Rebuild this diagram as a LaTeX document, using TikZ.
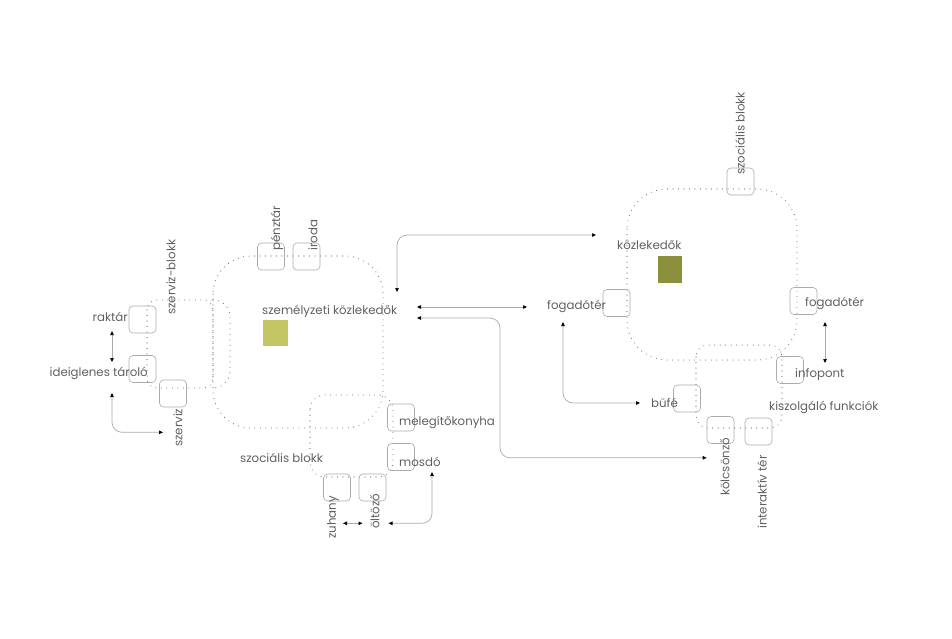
\documentclass[tikz,border=0pt]{standalone}
\usepackage{fontspec}
\setmainfont{Poppins}
\usepackage{tikz}
\usetikzlibrary{arrows.meta, calc, positioning}

\definecolor{olivelight}{HTML}{C3C462}
\definecolor{olivedark}{HTML}{8C8F3B}
\definecolor{txtgray}{HTML}{606060}
\definecolor{linegray}{HTML}{ABABAB}
\definecolor{dotgray}{HTML}{707070}

\begin{document}
\begin{tikzpicture}[x=1pt, y=-1pt,
	lbl/.style={text=txtgray, font=\fontsize{11.8}{12}\selectfont, inner sep=1pt},
	roomb/.style={draw=linegray, line width=0.6pt, rounded corners=4pt, minimum width=27pt, minimum height=27pt, inner sep=0pt},
	dotloop/.style={draw=dotgray, line width=1.1pt, line cap=round, dash pattern=on 0pt off 5.5pt, rounded corners=#1},
	dotloop/.default=20pt,
	conn/.style={draw=linegray, line width=0.7pt, rounded corners=10pt, {Triangle[black,length=4pt,width=3.5pt]}-{Triangle[black,length=4pt,width=3.5pt]}}
]
	\useasboundingbox (0,0) rectangle (952,638);
	% dotted circulation loops
	\draw[dotloop=38pt] (213,256) rectangle (383,428);
	\draw[dotloop=10pt] (147,300) rectangle (213,388);
	\draw[dotloop=17pt] (213,300) -| (230,388) -- (213,388);
	\draw[dotloop=15pt] (310,395) rectangle (393,477);
	\draw[dotloop=40pt] (627,189) rectangle (797,360);
	\draw[dotloop=12pt] (696,345) rectangle (782,428);
	\fill[olivelight] (263,320) rectangle (288,346);
	\fill[olivedark] (658,256) rectangle (682,283);
	% rooms
	\node[roomb] (raktarb) at (142.5,319.5) {};
	\node[roomb] (ideigb) at (142.5,369) {};
	\node[roomb] (szervizb) at (173,393.5) {};
	\node[roomb] (penztarb) at (271,256.5) {};
	\node[roomb] (irodab) at (306.5,256.5) {};
	\node[roomb] (melegb) at (401,417.5) {};
	\node[roomb] (mosdob) at (401,457) {};
	\node[roomb] (zuhanyb) at (337,487.5) {};
	\node[roomb] (oltozob) at (372.5,487.5) {};
	\node[roomb] (szocRb) at (740.5,181.5) {};
	\node[roomb] (fogado1b) at (616.5,303) {};
	\node[roomb] (fogado2b) at (803.5,301) {};
	\node[roomb] (infopontb) at (790,370) {};
	\node[roomb] (bufeb) at (687,398.5) {};
	\node[roomb] (kolcsb) at (720.5,430) {};
	\node[roomb] (interaktb) at (758.5,431.5) {};
	% labels
	\node[lbl, anchor=east] (raktar) at (129,317) {raktár};
	\node[lbl, anchor=east] (ideig) at (149,373) {ideiglenes tároló};
	\node[lbl, rotate=90, anchor=west] (szervizblokk) at (171,316) {szerviz-blokk};
	\node[lbl, rotate=90, anchor=west] (szerviz) at (178,448) {szerviz};
	\node[lbl, rotate=90, anchor=west] (penztar) at (277,252) {pénztár};
	\node[lbl, rotate=90, anchor=west] (iroda) at (313,252) {iroda};
	\node[lbl, anchor=west] (szemely) at (261,311) {személyzeti közlekedők};
	\node[lbl, anchor=west] (meleg) at (398,422) {melegítőkonyha};
	\node[lbl, anchor=west] (mosdo) at (398,462) {mosdó};
	\node[lbl, anchor=west] (szocL) at (239,458) {szociális blokk};
	\node[lbl, rotate=90, anchor=west] (zuhany) at (333,540) {zuhany};
	\node[lbl, rotate=90, anchor=west] (oltozo) at (375,530) {öltöző};
	\node[lbl, anchor=west] (fogado1) at (546,306) {fogadótér};
	\node[lbl, anchor=west] (kozlek) at (616,245) {közlekedők};
	\node[lbl, rotate=90, anchor=west] (szocR) at (740,176) {szociális blokk};
	\node[lbl, anchor=west] (fogado2) at (804,303) {fogadótér};
	\node[lbl, anchor=west] (infopont) at (794,375) {infopont};
	\node[lbl, anchor=west] (bufe) at (650,403) {büfé};
	\node[lbl, anchor=west] (kiszolg) at (768,407) {kiszolgáló funkciók};
	\node[lbl, rotate=90, anchor=west] (kolcs) at (725,497) {kölcsönző};
	\node[lbl, rotate=90, anchor=west] (interakt) at (762,530) {interaktív tér};
	% connections
	\draw[conn] ($(raktar.east)+(-17,14)$) -- ($(ideig.east)+(-37,-11)$);
	\draw[conn] ($(ideig.east)+(-37,20)$) |- ($(szervizb.south)+(-10,25)$);
	\draw[conn] ($(zuhanyb.south)+(6,22)$) -- ($(oltozob.south)+(-10,22)$);
	\draw[conn] ($(oltozob.south)+(16,22)$) -| ($(mosdo.west)+(34,10)$);
	\draw[conn] ($(szemely.west)+(136,-19)$) |- ($(kozlek.west)+(-20,-10)$);
	\draw[conn] ($(szemely.west)+(156,-4)$) -- ($(fogado1.west)+(-19,1)$);
	\draw[conn] ($(szemely.west)+(156,7)$) -- ++(83,0) |- ($(kolcsb.south west)+(0,14)$);
	\draw[conn] ($(fogado1.west)+(17,16)$) |- ($(bufe.west)+(-10,0)$);
	\draw[conn] ($(fogado2.west)+(21,19)$) -- ($(infopont.west)+(31,-12)$);
\end{tikzpicture}
\end{document}
